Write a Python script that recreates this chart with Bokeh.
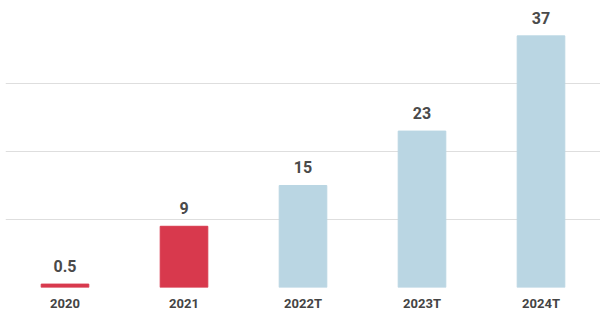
from bokeh.plotting import figure
from bokeh.models import ColumnDataSource, LabelSet, Grid, FixedTicker, Range1d
from bokeh.core.properties import value
from bokeh.embed import file_html
from bokeh.resources import INLINE

years = ["2020", "2021", "2022T", "2023T", "2024T"]
values = [0.5, 9, 15, 23, 37]
labels = ["0.5", "9", "15", "23", "37"]
colors = ["#D8394D", "#D8394D", "#BAD6E3", "#BAD6E3", "#BAD6E3"]
grid_ticks = [0, 10, 20, 30]

src = ColumnDataSource(dict(x=years, y=values, label=labels, color=colors))

p = figure(x_range=years, y_range=Range1d(0, 42.2), width=600, height=313,
           output_backend="svg", toolbar_location=None, y_axis_location=None,
           min_border_left=5, min_border_right=0, min_border_top=0, min_border_bottom=0)
p.outline_line_color = None
p.xgrid.grid_line_color = None
for g in p.ygrid:
    g.grid_line_color = None
p.add_layout(Grid(dimension=1, ticker=FixedTicker(ticks=grid_ticks),
                  grid_line_color="#DEDEDE", grid_line_width=1))

p.vbar(x="x", top="y", width=0.4, color="color", source=src)

p.add_layout(LabelSet(x="x", y="y", text="label", source=src, y_offset=12,
                      text_align="center", text_baseline="bottom",
                      text_font=value("Roboto"), text_font_size="16px",
                      text_font_style="bold", text_color="#4A4A4A"))

ax = p.xaxis[0]
ax.axis_line_color = None
ax.major_tick_line_color = None
ax.minor_tick_line_color = None
ax.major_label_text_font = "Roboto"
ax.major_label_text_font_size = "13px"
ax.major_label_text_font_style = "bold"
ax.major_label_text_color = "#444444"
ax.major_label_standoff = 2

open("out.html", "w").write(file_html(p, INLINE))
